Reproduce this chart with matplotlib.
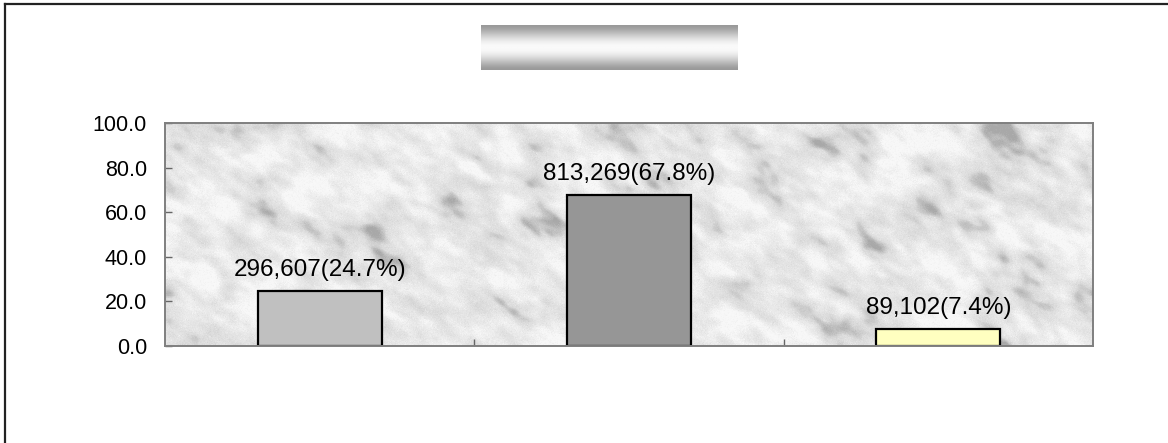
import numpy as np
import matplotlib
matplotlib.use('Agg')
import matplotlib.pyplot as plt
from matplotlib.lines import Line2D

# data
categories = ['A', 'B', 'C']
counts = [296607, 813269, 89102]
percents = [24.7, 67.8, 7.4]
bar_colors = ['#c0c0c0', '#969696', '#ffffc0']
y_ticks = [0, 20, 40, 60, 80, 100]

plt.rcParams['font.family'] = ['Liberation Sans', 'DejaVu Sans']

W, H = 1168, 443
fig = plt.figure(figsize=(W / 100, H / 100), dpi=100)
fig.patch.set_facecolor('white')

# outer frame (left and top edges visible)
fig.add_artist(Line2D([4.5 / W, 4.5 / W], [0, 1 - 3.5 / H], transform=fig.transFigure,
                      color='#222222', lw=1.6))
fig.add_artist(Line2D([4.5 / W, 1], [1 - 3.5 / H, 1 - 3.5 / H], transform=fig.transFigure,
                      color='#222222', lw=1.6))

# metallic title box
tax = fig.add_axes([481 / W, 1 - 70 / H, 257 / W, 45 / H])
t = np.linspace(0, 1, 90)
grad = 0.60 + 0.38 * np.sin(np.pi * t) ** 1.5
tax.imshow(np.tile(grad[:, None], (1, 4)), cmap='gray', vmin=0, vmax=1,
           aspect='auto', interpolation='bilinear')
tax.axis('off')

# plot area
ax = fig.add_axes([165 / W, 1 - 346 / H, 928 / W, 223 / H])

# marble-like background texture (decorative only)
rng = np.random.default_rng(11)
th, tw = 223, 928
noise = rng.standard_normal((th, tw))
F = np.fft.fft2(noise)
ky = np.fft.fftfreq(th)[:, None]
kx = np.fft.fftfreq(tw)[None, :]
ang = np.deg2rad(30)
u = kx * np.cos(ang) + ky * np.sin(ang)
v = -kx * np.sin(ang) + ky * np.cos(ang)
coarse = np.real(np.fft.ifft2(F * np.exp(-(u / 0.015) ** 2 - (v / 0.03) ** 2)))
mid = np.real(np.fft.ifft2(F * np.exp(-(u / 0.05) ** 2 - (v / 0.09) ** 2)))
coarse /= coarse.std()
mid /= mid.std()
speck = rng.standard_normal((th, tw))
field = 0.8 * coarse + 0.45 * mid
tex = 0.90 - 0.035 * np.clip(field, -2, 3) - 0.07 * np.clip(field - 1.3, 0, 2) + 0.012 * speck
tex = np.clip(tex, 0.66, 0.97)
ax.imshow(tex, cmap='gray', vmin=0, vmax=1, extent=(0, 3, 0, 100),
          aspect='auto', zorder=0, interpolation='bilinear')

x = np.arange(len(categories)) + 0.5
ax.bar(x, percents, width=0.4, color=bar_colors, edgecolor='black',
       linewidth=1.6, zorder=2)

for xi, c, p in zip(x, counts, percents):
    ax.annotate(f'{c:,}({p}%)', (xi, p), xytext=(0, 11), textcoords='offset points',
                ha='center', va='baseline', fontsize=17.5, color='black', zorder=3)

ax.set_xlim(0, 3)
ax.set_ylim(0, 100)
ax.set_xticks([1, 2])
ax.set_xticklabels([])
ax.set_yticks(y_ticks)
ax.set_yticklabels([f'{v:.1f}' for v in y_ticks])
ax.tick_params(axis='x', direction='in', length=5, width=1, color='#666666')
ax.tick_params(axis='y', direction='in', length=5, width=1, color='#666666',
               pad=13, labelsize=15.5, labelcolor='black')
for s in ax.spines.values():
    s.set_color('#7f7f7f')
    s.set_linewidth(1.4)
    s.set_zorder(4)

fig.savefig('out.png', dpi=100, facecolor='white')
